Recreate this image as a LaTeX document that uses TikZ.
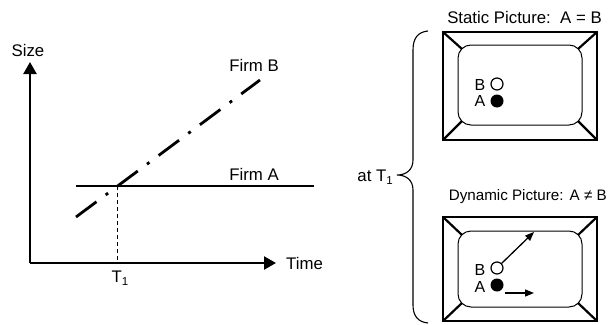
\documentclass[tikz,border=0pt]{standalone}
\usepackage{fontspec}
\setmainfont{Liberation Sans}
\usetikzlibrary{arrows.meta}
\begin{document}
\begin{tikzpicture}[x=1pt,y=-1pt,
  lbl/.style={inner sep=0pt,font=\fontsize{16.8}{19}\selectfont},
  small/.style={inner sep=0pt,font=\fontsize{16}{18}\selectfont},
  axis/.style={line width=2.3pt,-{Triangle[length=12pt,width=13pt]}},
  firmA/.style={line width=2.2pt},
  firmB/.style={line width=2.8pt,dash pattern=on 25.5pt off 11.5pt on 3pt off 11.5pt},
  guide/.style={line width=0.9pt,dash pattern=on 4pt off 3pt},
  outerframe/.style={line width=2.5pt},
  innerframe/.style={line width=1pt,rounded corners=13pt},
  cornerline/.style={line width=2.2pt},
  bracestyle/.style={line width=1.1pt},
  hollowdot/.style={circle,draw,line width=1.2pt,minimum size=12pt,inner sep=0pt},
  soliddot/.style={circle,fill,minimum size=13pt,inner sep=0pt},
  moveArrow/.style={line width=1.3pt,-{Triangle[length=9pt,width=7pt]}}]
\useasboundingbox (0,0) rectangle (610,324);

% ---- size / time chart ----
\coordinate (origin) at (30,263);
\coordinate (ytip) at (30,62);
\coordinate (xtip) at (276,263);
\draw[axis] (origin) -- (ytip);
\draw[axis] (origin) -- (xtip);
\node[lbl] (sizelbl) at (28,50) {Size};
\node[lbl,anchor=west] (timelbl) at (286,263) {Time};

\coordinate (a0) at (76,186);
\coordinate (a1) at (314,186);
\coordinate (b0) at (76,217);
\coordinate (b1) at (260,80);
\draw[firmA] (a0) -- (a1);
\draw[firmB] (b0) -- (b1);
\node[lbl] (firmAlbl) at (254,174) {Firm A};
\node[lbl] (firmBlbl) at (254,65) {Firm B};

\coordinate (cross) at (intersection of a0--a1 and b0--b1);
\coordinate (tfoot) at (cross |- origin);
\draw[guide] (cross) -- (tfoot);
\node[lbl] (tlbl) at (120,278) {T\raisebox{-0.4ex}{\fontsize{11.5}{11}\selectfont 1}};

% ---- brace and its label ----
\draw[bracestyle] (428,31) .. controls (418,32) and (413,38) .. (413,50)
  -- (413,160) .. controls (413,170) and (406,175) .. (397,175)
  .. controls (406,175) and (413,180) .. (413,190)
  -- (413,305) .. controls (413,316) and (418,322) .. (428,323);
\node[lbl,anchor=east] (atlbl) at (393,177) {at T\raisebox{-0.4ex}{\fontsize{11.5}{11}\selectfont 1}};

% ---- static picture ----
\node[lbl,anchor=east] (statictitle) at (602,17) {Static Picture:\ \ A = B};
\draw[outerframe] (443,32) rectangle (597,140);
\draw[innerframe] (458,45) rectangle (582,125);
\draw[cornerline] (443,32) -- (462,49);
\draw[cornerline] (597,32) -- (578,49);
\draw[cornerline] (443,140) -- (462,121);
\draw[cornerline] (597,140) -- (578,121);
\node[hollowdot] (Bstat) at (497,84) {};
\node[soliddot] (Astat) at (497,101) {};
\node[small] (Bstatlbl) at (480,85) {B};
\node[small] (Astatlbl) at (480,101) {A};

% ---- dynamic picture ----
\node[inner sep=0pt,anchor=east,font=\fontsize{15.2}{18}\selectfont] (dyntitle) at (607,197) {Dynamic Picture:\hspace{0.4em}A ≠ B};
\draw[outerframe] (443,217) rectangle (597,321);
\draw[innerframe] (458,231) rectangle (582,307);
\draw[cornerline] (443,217) -- (462,235);
\draw[cornerline] (597,217) -- (578,235);
\draw[cornerline] (443,321) -- (462,303);
\draw[cornerline] (597,321) -- (578,303);
\node[hollowdot] (Bdyn) at (497,268) {};
\node[soliddot] (Adyn) at (497,285) {};
\node[small] (Bdynlbl) at (480,270) {B};
\node[small] (Adynlbl) at (480,287) {A};
\coordinate (bend) at (534,232);
\coordinate (astart) at (505,293);
\coordinate (aend) at (534,293);
\draw[moveArrow] (Bdyn.45) -- (bend);
\draw[moveArrow] (astart) -- (aend);
\end{tikzpicture}
\end{document}
